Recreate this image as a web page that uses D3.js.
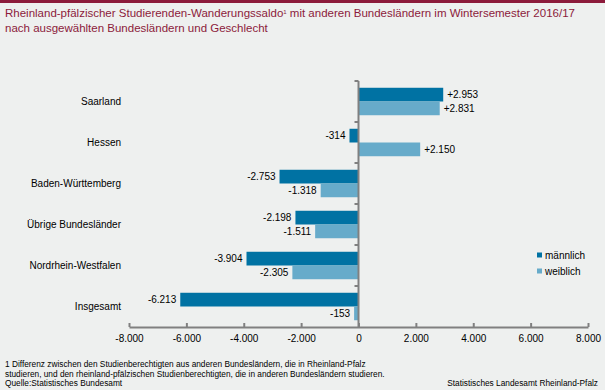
<!DOCTYPE html>
<html>
<head>
<meta charset="utf-8">
<script src="https://cdnjs.cloudflare.com/ajax/libs/d3/7.8.5/d3.min.js"></script>
<style>
  body { margin: 0; background: #eef0ef; }
  svg { display: block; font-family: "Liberation Sans", Arial, sans-serif; }
</style>
</head>
<body>
<div id="chart"></div>
<script>
// Set dimensions
var w = 605;
var h = 390;
var margin = {top: 81, right: 17, bottom: 63, left: 129};

var categories = ["Saarland", "Hessen", "Baden-Württemberg", "Übrige Bundesländer", "Nordrhein-Westfalen", "Insgesamt"];
var maennlich = [2953, -314, -2753, -2198, -3904, -6213];
var weiblich = [2831, 2150, -1318, -1511, -2305, -153];
var xTicks = [-8000, -6000, -4000, -2000, 0, 2000, 4000, 6000, 8000];
var seriesNames = ["männlich", "weiblich"];

var dataset = categories.map(function(c, i) {
    return { name: c, values: [maennlich[i], weiblich[i]] };
});

var color = d3.scaleOrdinal()
    .domain(seriesNames)
    .range(["#0072a3", "#67abca"]);

// German number format with plain hyphen as minus
var deFormat = d3.formatLocale({decimal: ",", thousands: ".", grouping: [3], currency: ["", "€"], minus: "-"});
var fmt = deFormat.format(",");
var fmtSigned = function(v) { return (v > 0 ? "+" : "") + fmt(v); };

var xScale = d3.scaleLinear()
    .domain([-8000, 8000])
    .range([margin.left, w - margin.right]);

var yScale = d3.scaleBand()
    .domain(categories)
    .range([margin.top, h - margin.bottom])
    .paddingInner(0.33)
    .paddingOuter(0.165);

var inner = d3.scaleBand()
    .domain(seriesNames)
    .range([0, yScale.bandwidth()]);

var svg = d3.select("#chart")
    .append("svg")
    .attr("width", w)
    .attr("height", h);

svg.append("rect")
    .attr("width", w).attr("height", h)
    .attr("fill", "#eef0ef");

// Top stripe
svg.append("rect")
    .attr("width", w).attr("height", 3)
    .attr("fill", "#8c1b3b");

// Title
var title = svg.append("text")
    .attr("fill", "#8c1b3b")
    .style("font-size", "11.5px");
title.append("tspan").attr("x", 5).attr("y", 17)
    .text("Rheinland-pfälzischer Studierenden-Wanderungssaldo")
    .append("tspan").attr("baseline-shift", "super").style("font-size", "6px").text("1");
title.append("tspan")
    .text(" mit anderen Bundesländern im Wintersemester 2016/17");
title.append("tspan").attr("x", 5).attr("y", 32)
    .text("nach ausgewählten Bundesländern und Geschlecht");

// Bars
var groups = svg.selectAll("g.cat")
    .data(dataset)
    .enter()
    .append("g")
    .attr("class", "cat")
    .attr("transform", function(d) { return "translate(0," + yScale(d.name) + ")"; });

groups.selectAll("rect")
    .data(function(d) { return d.values.map(function(v, i) { return {key: seriesNames[i], value: v}; }); })
    .enter()
    .append("rect")
    .attr("x", function(d) { return xScale(Math.min(0, d.value)); })
    .attr("y", function(d) { return inner(d.key); })
    .attr("width", function(d) { return Math.abs(xScale(d.value) - xScale(0)); })
    .attr("height", inner.bandwidth())
    .attr("fill", function(d) { return color(d.key); });

groups.selectAll("text.val")
    .data(function(d) { return d.values.map(function(v, i) { return {key: seriesNames[i], value: v}; }); })
    .enter()
    .append("text")
    .attr("class", "val")
    .attr("x", function(d) { return xScale(d.value) + (d.value < 0 ? -4 : 4); })
    .attr("y", function(d) { return inner(d.key) + inner.bandwidth() / 2; })
    .attr("dy", "0.35em")
    .attr("text-anchor", function(d) { return d.value < 0 ? "end" : "start"; })
    .style("font-size", "10px")
    .attr("fill", "#000")
    .text(function(d) { return fmtSigned(d.value); });

// Y axis (vertical line at zero with category separators)
var yAxisG = svg.append("g")
    .attr("transform", "translate(" + xScale(0) + ",0)");
yAxisG.append("line")
    .attr("y1", margin.top).attr("y2", h - margin.bottom)
    .attr("stroke", "#808080").attr("stroke-width", 2);
var sepY = categories.map(function(c) { return yScale(c) - yScale.step() * yScale.paddingInner() / 2; });
yAxisG.selectAll("line.sep")
    .data(sepY)
    .enter().append("line")
    .attr("class", "sep")
    .attr("x1", -4).attr("x2", 0)
    .attr("y1", function(d) { return d; }).attr("y2", function(d) { return d; })
    .attr("stroke", "#808080").attr("stroke-width", 2);

// Category labels
svg.selectAll("text.cat")
    .data(categories)
    .enter()
    .append("text")
    .attr("class", "cat")
    .attr("x", 121)
    .attr("y", function(d) { return yScale(d) + yScale.bandwidth() / 2; })
    .attr("dy", "0.35em")
    .attr("text-anchor", "end")
    .style("font-size", "10px")
    .text(function(d) { return d; });

// X axis
var xAxis = d3.axisBottom(xScale)
    .tickValues(xTicks)
    .tickSize(4)
    .tickSizeOuter(0)
    .tickFormat(function(d) { return fmt(d); });

var xAxisG = svg.append("g")
    .attr("transform", "translate(0," + (h - margin.bottom) + ")")
    .call(xAxis);
xAxisG.select(".domain").attr("stroke", "#808080").attr("stroke-width", 2);
xAxisG.selectAll(".tick line")
    .attr("stroke", "#808080").attr("stroke-width", 2)
    .attr("y1", -4).attr("y2", 0);
xAxisG.selectAll(".tick text")
    .attr("y", 8)
    .attr("fill", "#000")
    .style("font-size", "10px")
    .style("font-family", "'Liberation Sans', Arial, sans-serif");

// Legend
var legendItems = svg.selectAll(".legend-item")
    .data(seriesNames)
    .enter()
    .append("g")
    .attr("class", "legend-item")
    .attr("transform", function(d, i) { return "translate(537," + (255 + i * 16) + ")"; });
legendItems.append("rect")
    .attr("x", 0).attr("y", -2.5)
    .attr("width", 5).attr("height", 5)
    .style("fill", color);
legendItems.append("text")
    .attr("x", 8).attr("y", 0).attr("dy", "0.35em")
    .style("font-size", "10px")
    .text(function(d) { return d; });

// Footnotes
var notes = [
    "1 Differenz zwischen den Studienberechtigten aus anderen Bundesländern, die in Rheinland-Pfalz",
    "studieren, und den rheinland-pfälzischen Studienberechtigten, die in anderen Bundesländern studieren.",
    "Quelle:Statistisches Bundesamt"
];
svg.selectAll("text.note")
    .data(notes)
    .enter()
    .append("text")
    .attr("class", "note")
    .attr("x", 5)
    .attr("y", function(d, i) { return 367 + i * 9.5; })
    .style("font-size", "8.3px")
    .text(function(d) { return d; });

svg.append("text")
    .attr("x", 598).attr("y", 386)
    .attr("text-anchor", "end")
    .style("font-size", "8.3px")
    .text("Statistisches Landesamt Rheinland-Pfalz");
</script>
</body>
</html>
